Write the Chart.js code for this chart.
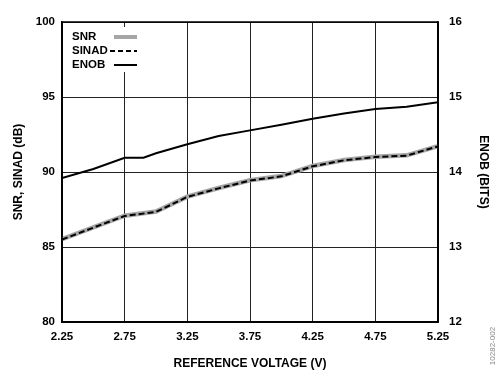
<!DOCTYPE html>
<html>
<head>
<meta charset="utf-8">
<script src="https://cdn.jsdelivr.net/npm/chart.js@4/dist/chart.umd.min.js"></script>
<style>
  html,body{margin:0;padding:0;background:#fff;}
  #wrap{width:499px;height:371px;position:relative;}
</style>
</head>
<body>
<div id="wrap"><canvas id="chart"></canvas></div>
<script>
// values
const snrVoltage = [2.25,2.5,2.75,3.0,3.25,3.5,3.75,4.0,4.25,4.5,4.75,5.0,5.25];
const snrDb      = [85.53,86.31,87.09,87.36,88.36,88.93,89.45,89.73,90.40,90.80,91.02,91.11,91.73];
const sinadDb    = [85.50,86.29,87.07,87.34,88.34,88.91,89.43,89.71,90.38,90.78,91.00,91.09,91.71];
const enobVoltage = [2.25,2.5,2.75,2.9,3.0,3.25,3.5,3.75,4.0,4.25,4.5,4.75,5.0,5.25];
const enobBits    = [13.92,14.04,14.19,14.19,14.25,14.37,14.48,14.555,14.63,14.71,14.78,14.84,14.87,14.93];
const xTicks = [2.25,2.75,3.25,3.75,4.25,4.75,5.25];
const dbTicks = [80,85,90,95,100];
const bitTicks = [12,13,14,15,16];

const FONT = 'Liberation Sans, Arial, sans-serif';
const pts = (xs, ys) => xs.map((x,i)=>({x:x, y:ys[i]}));

// legend drawn inside the plot, text first then the line sample
const insideLegend = {
  id:'insideLegend',
  afterDraw(chart){
    const ctx = chart.ctx;
    ctx.save();
    ctx.fillStyle = '#fff';
    ctx.fillRect(67, 27, 76, 45);
    ctx.font = 'bold 11.5px ' + FONT;
    ctx.fillStyle = '#000';
    ctx.textBaseline = 'middle';
    const rows = [
      {t:'SNR',   y:37, color:'#a6a6a6', w:4, dash:[],    x0:114},
      {t:'SINAD', y:51, color:'#000',    w:2, dash:[5,3], x0:110},
      {t:'ENOB',  y:65, color:'#000',    w:2, dash:[],    x0:114}
    ];
    rows.forEach(r=>{
      ctx.fillText(r.t, 72, r.y);
      ctx.beginPath();
      ctx.strokeStyle = r.color;
      ctx.lineWidth = r.w;
      ctx.setLineDash(r.dash);
      ctx.moveTo(r.x0, r.y);
      ctx.lineTo(137, r.y);
      ctx.stroke();
    });
    ctx.restore();
  }
};

new Chart(document.getElementById('chart'), {
  type:'line',
  data:{
    datasets:[
      {label:'SNR', data:pts(snrVoltage, snrDb), borderColor:'#a6a6a6', borderWidth:4.5, yAxisID:'y', pointRadius:0, tension:0, order:2},
      {label:'SINAD', data:pts(snrVoltage, sinadDb), borderColor:'#000', borderWidth:2, borderDash:[6,3], yAxisID:'y', pointRadius:0, tension:0, order:1},
      {label:'ENOB', data:pts(enobVoltage, enobBits), borderColor:'#000', borderWidth:2, yAxisID:'y1', pointRadius:0, tension:0, order:0}
    ]
  },
  options:{
    responsive:true,
    maintainAspectRatio:false,
    animation:false,
    layout:{padding:{top:22,left:0,right:0,bottom:0}},
    plugins:{legend:{display:false}, tooltip:{enabled:false}},
    scales:{
      x:{
        type:'linear', min:2.25, max:5.25,
        afterBuildTicks(s){ s.ticks = xTicks.map(v=>({value:v})); },
        afterFit(s){ s.height = 49; },
        grid:{color:'#222', lineWidth:1, drawTicks:false},
        border:{color:'#000', width:1.5},
        ticks:{padding:8, color:'#000', font:{family:FONT, size:11.5, weight:'bold'}, callback:v=>v.toFixed(2)},
        title:{display:true, text:'REFERENCE VOLTAGE (V)', color:'#000', padding:{top:6,bottom:0}, font:{family:FONT, size:12, weight:'bold'}}
      },
      y:{
        type:'linear', position:'left', min:80, max:100,
        afterBuildTicks(s){ s.ticks = dbTicks.map(v=>({value:v})); },
        afterFit(s){ s.width = 62; },
        grid:{color:'#222', lineWidth:1, drawTicks:false},
        border:{color:'#000', width:1.5},
        ticks:{padding:7, color:'#000', font:{family:FONT, size:11.5, weight:'bold'}},
        title:{display:true, text:'SNR, SINAD (dB)', color:'#000', padding:{top:11,bottom:0}, font:{family:FONT, size:12, weight:'bold'}}
      },
      y1:{
        type:'linear', position:'right', min:12, max:16,
        afterBuildTicks(s){ s.ticks = bitTicks.map(v=>({value:v})); },
        afterFit(s){ s.width = 61; },
        grid:{display:false, drawTicks:false},
        border:{color:'#000', width:1.5},
        ticks:{padding:11, color:'#000', font:{family:FONT, size:11.5, weight:'bold'}},
        title:{display:true, text:'ENOB (BITS)', color:'#000', padding:{top:8,bottom:0}, font:{family:FONT, size:12, weight:'bold'}}
      }
    }
  },
  plugins:[insideLegend, {
    id:'figNo',
    afterDraw(chart){
      const ctx = chart.ctx;
      ctx.save();
      ctx.translate(493, 346);
      ctx.rotate(-Math.PI/2);
      ctx.font = '8px ' + FONT;
      ctx.fillStyle = '#888';
      ctx.textAlign = 'center';
      ctx.textBaseline = 'middle';
      ctx.fillText('10282-002', 0, 0);
      ctx.restore();
    }
  }, {
    id:'plotBorder',
    afterDatasetsDraw(chart){
      const a = chart.chartArea, ctx = chart.ctx;
      ctx.save();
      ctx.strokeStyle = '#000';
      ctx.lineWidth = 1.5;
      ctx.strokeRect(a.left, a.top, a.right - a.left, a.bottom - a.top);
      ctx.restore();
    }
  }]
});
</script>
</body>
</html>
